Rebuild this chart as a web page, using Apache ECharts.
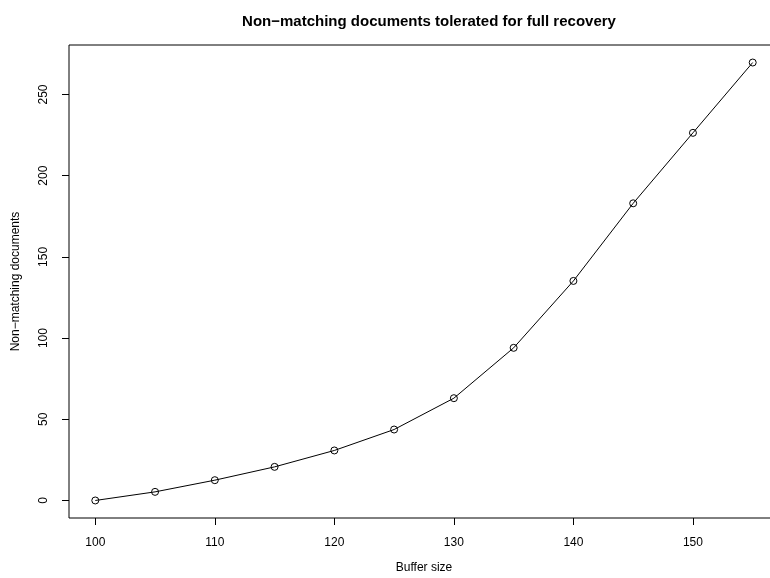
<!DOCTYPE html>
<html>
<head>
<meta charset="utf-8">
<script src="https://cdn.jsdelivr.net/npm/echarts@6/dist/echarts.min.js"></script>
<style>html,body{margin:0;padding:0;background:#fff}#c{width:770px;height:578px}</style>
</head>
<body>
<div id="c"></div>
<script>
const bufferSizes = [100, 105, 110, 115, 120, 125, 130, 135, 140, 145, 150, 155];
const nonMatchingDocs = [0, 5.3, 12.5, 20.7, 30.8, 43.7, 63, 94, 135.2, 183, 226.4, 269.7];
const xTicks = [100, 110, 120, 130, 140, 150];
const yTicks = [0, 50, 100, 150, 200, 250];

const font = '"Liberation Sans", Arial, sans-serif';
const xr = Math.max(...bufferSizes) - Math.min(...bufferSizes);
const yr = Math.max(...nonMatchingDocs) - Math.min(...nonMatchingDocs);
const chart = echarts.init(document.getElementById('c'), null, {renderer: 'canvas'});
chart.setOption({
  animation: false,
  backgroundColor: '#fff',
  title: {
    text: 'Non\u2212matching documents tolerated for full recovery',
    left: 424, top: 9, textAlign: 'center',
    textStyle: {fontFamily: font, fontSize: 15, fontWeight: 'bold', color: '#000'}
  },
  grid: {left: 69, top: 45, width: 710, height: 473, outerBoundsMode: 'none', containLabel: false,
         show: true, borderColor: '#000', borderWidth: 1, backgroundColor: 'transparent'},
  xAxis: {
    type: 'value',
    min: Math.min(...bufferSizes) - 0.04 * xr,
    max: Math.max(...bufferSizes) + 0.04 * xr,
    name: 'Buffer size', nameLocation: 'middle', nameGap: 44,
    nameTextStyle: {fontFamily: font, fontSize: 12, color: '#000'},
    axisLine: {show: false, onZero: false},
    splitLine: {show: false},
    axisTick: {show: true, length: 7, lineStyle: {color: '#000'}, customValues: xTicks},
    axisLabel: {fontFamily: font, fontSize: 12, color: '#000', margin: 19, customValues: xTicks}
  },
  yAxis: {
    type: 'value',
    min: Math.min(...nonMatchingDocs) - 0.04 * yr,
    max: Math.max(...nonMatchingDocs) + 0.04 * yr,
    name: 'Non\u2212matching documents', nameLocation: 'middle', nameGap: 47,
    nameTextStyle: {fontFamily: font, fontSize: 12, color: '#000'},
    axisLine: {show: false, onZero: false},
    splitLine: {show: false},
    axisTick: {show: true, length: 7, lineStyle: {color: '#000'}, customValues: yTicks},
    axisLabel: {fontFamily: font, fontSize: 12, color: '#000', margin: 19, rotate: 90, customValues: yTicks}
  },
  series: [{
    type: 'line',
    data: bufferSizes.map((x, i) => [x, nonMatchingDocs[i]]),
    symbol: 'circle', symbolSize: 7, showAllSymbol: true,
    lineStyle: {color: '#000', width: 1},
    itemStyle: {color: 'rgba(0,0,0,0)', borderColor: '#000', borderWidth: 1},
    emphasis: {disabled: true}
  }]
});
</script>
</body>
</html>
